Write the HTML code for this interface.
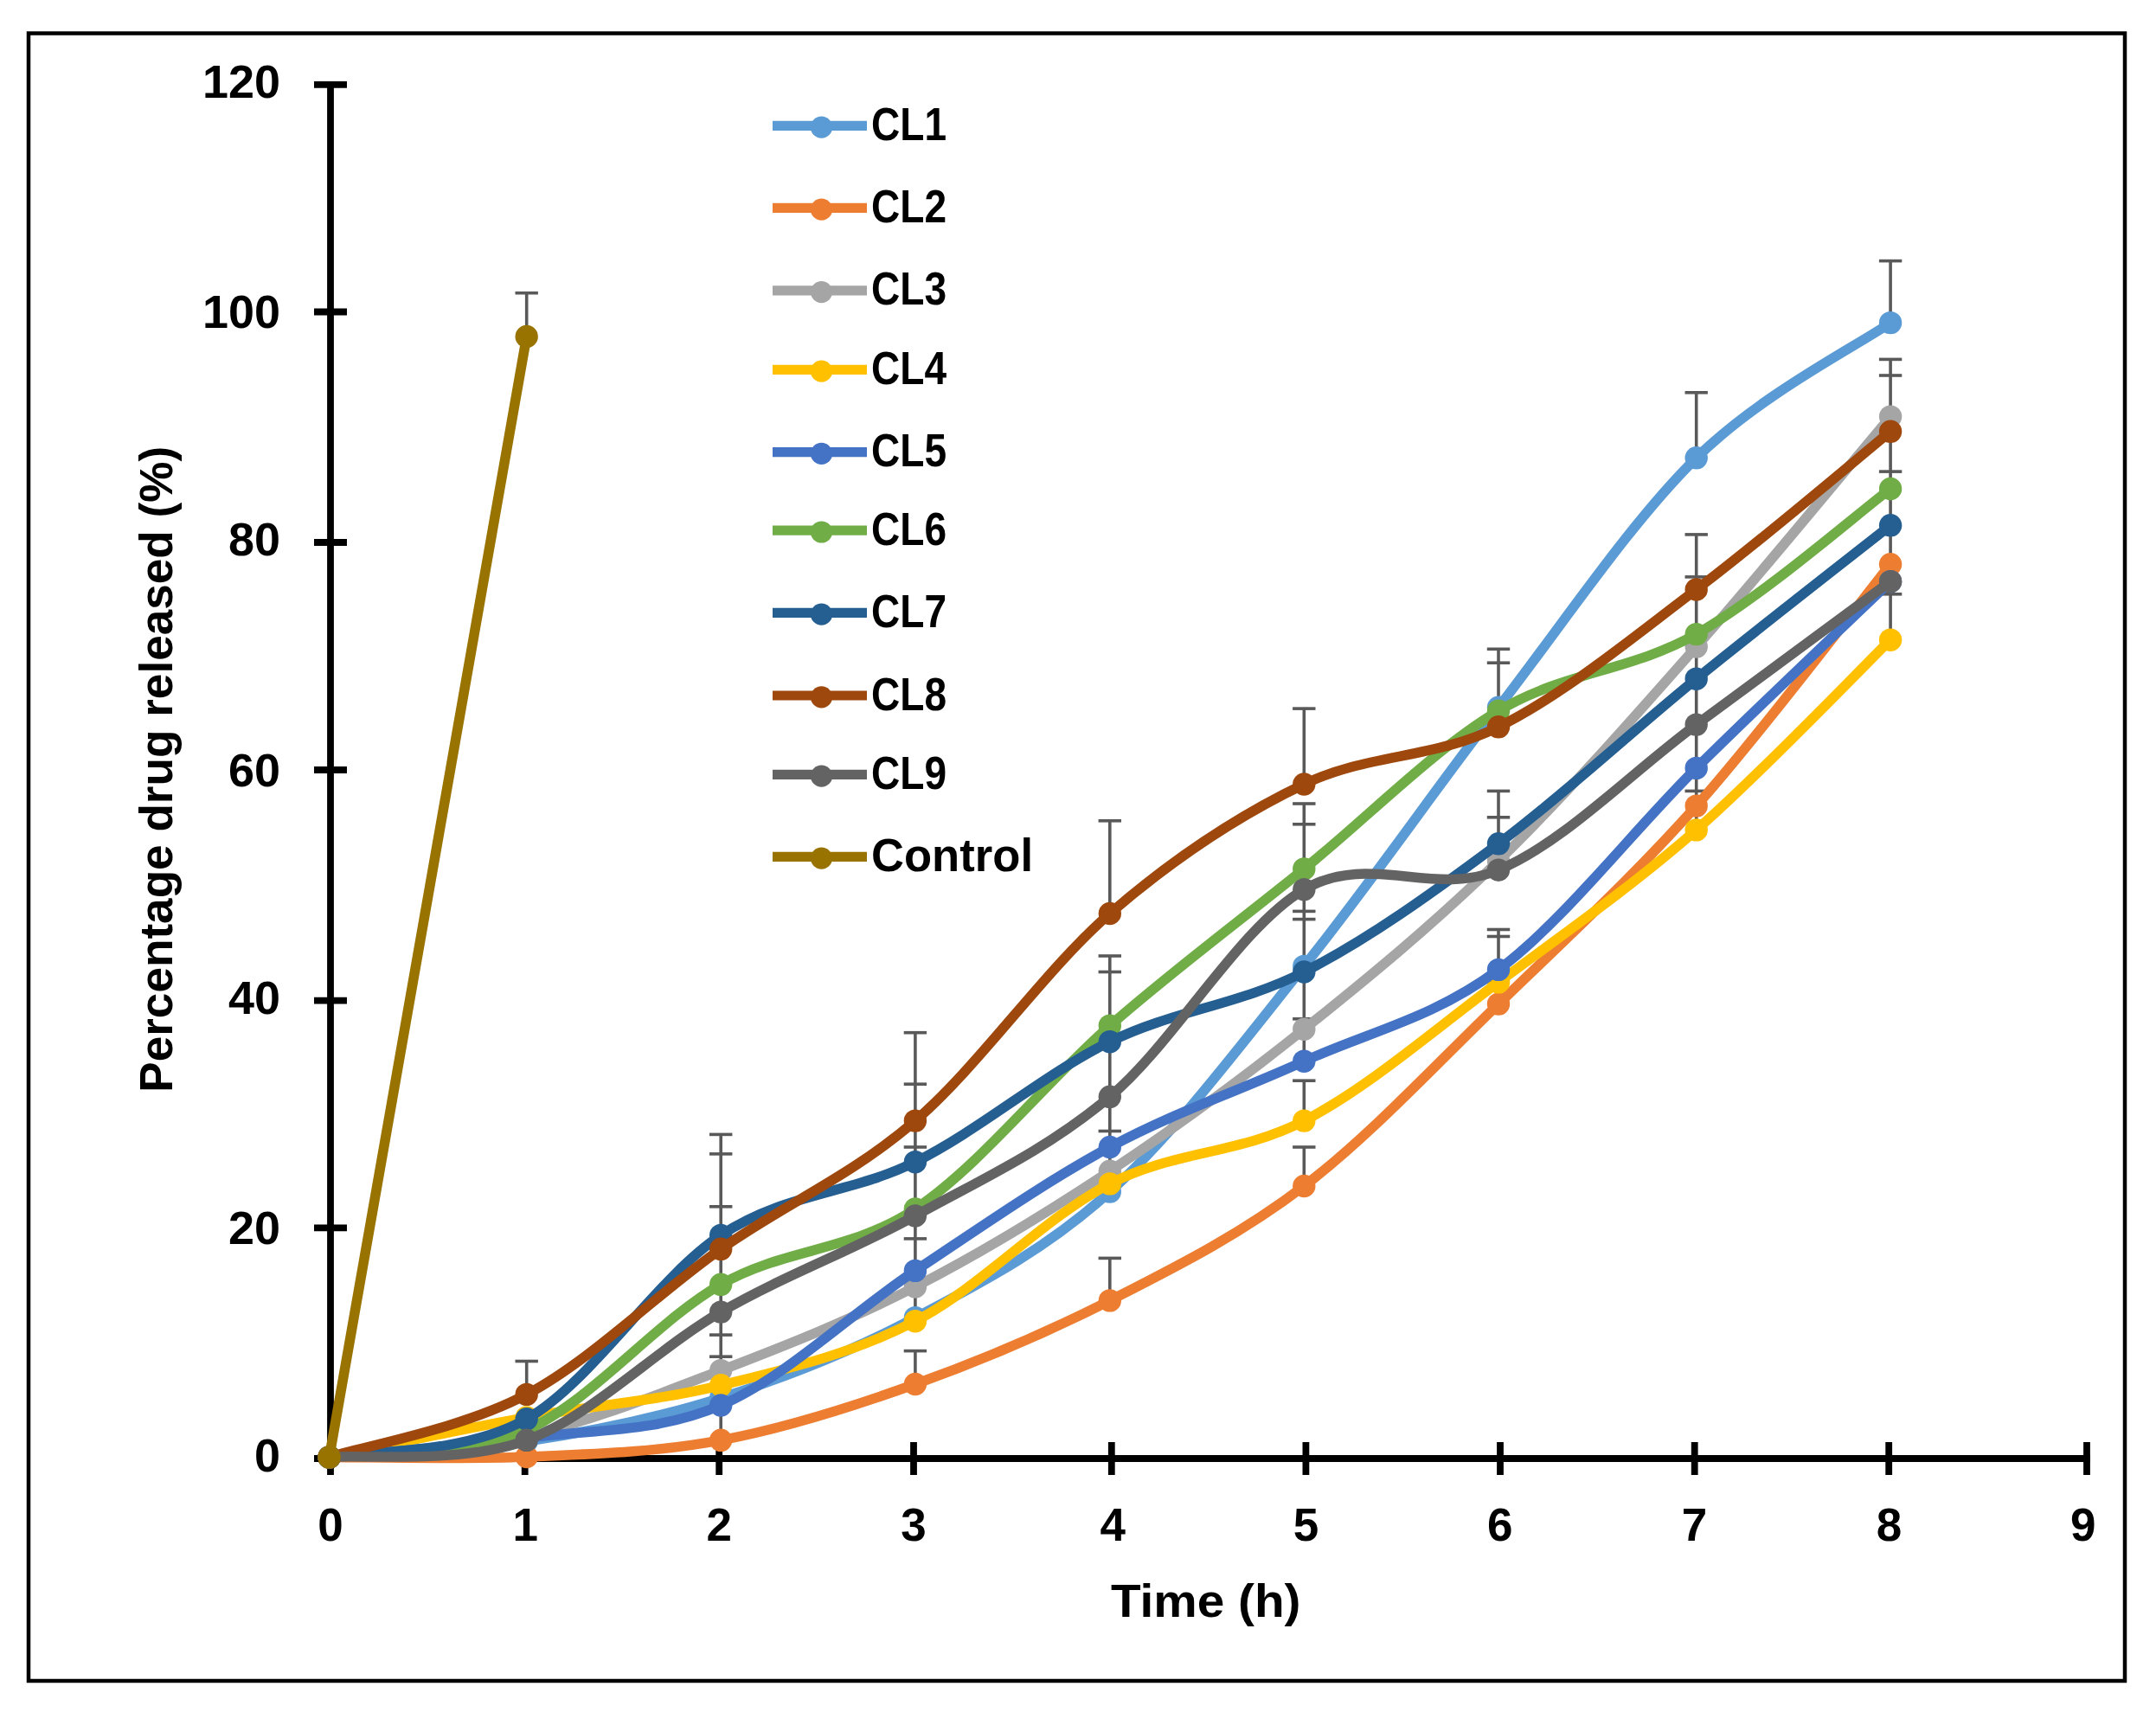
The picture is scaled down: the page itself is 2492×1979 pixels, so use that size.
<!DOCTYPE html>
<html><head><meta charset="utf-8"><title>Drug release</title>
<style>html,body{margin:0;padding:0;background:#fff;}svg{display:block;}text{font-family:"Liberation Sans",Arial,sans-serif;font-weight:bold;fill:#000;}</style></head><body>
<svg width="2492" height="1979" viewBox="0 0 2492 1979">
<rect x="0" y="0" width="2492" height="1979" fill="#fff"/>
<rect x="33" y="38.5" width="2423" height="1904.5" fill="none" stroke="#000" stroke-width="4.5"/>
<g stroke="#000" stroke-width="7.8" fill="none">
<line x1="382" y1="97.8" x2="382" y2="1690"/>
<line x1="378" y1="1686" x2="2416" y2="1686"/>
<line x1="363" y1="1686.0" x2="401" y2="1686.0"/>
<line x1="363" y1="1419.4" x2="401" y2="1419.4"/>
<line x1="363" y1="1156.6" x2="401" y2="1156.6"/>
<line x1="363" y1="890.0" x2="401" y2="890.0"/>
<line x1="363" y1="627.0" x2="401" y2="627.0"/>
<line x1="363" y1="360.5" x2="401" y2="360.5"/>
<line x1="363" y1="97.8" x2="401" y2="97.8"/>
<line x1="382.0" y1="1667" x2="382.0" y2="1705"/>
<line x1="606.7" y1="1667" x2="606.7" y2="1705"/>
<line x1="831.2" y1="1667" x2="831.2" y2="1705"/>
<line x1="1056.0" y1="1667" x2="1056.0" y2="1705"/>
<line x1="1284.8" y1="1667" x2="1284.8" y2="1705"/>
<line x1="1509.4" y1="1667" x2="1509.4" y2="1705"/>
<line x1="1734.0" y1="1667" x2="1734.0" y2="1705"/>
<line x1="1958.7" y1="1667" x2="1958.7" y2="1705"/>
<line x1="2183.2" y1="1667" x2="2183.2" y2="1705"/>
<line x1="2412.0" y1="1667" x2="2412.0" y2="1705"/>
</g>
<text x="324" y="1701.0" font-size="53" text-anchor="end" textLength="30" lengthAdjust="spacingAndGlyphs">0</text>
<text x="324" y="1438.3" font-size="53" text-anchor="end" textLength="60" lengthAdjust="spacingAndGlyphs">20</text>
<text x="324" y="1171.8" font-size="53" text-anchor="end" textLength="60" lengthAdjust="spacingAndGlyphs">40</text>
<text x="324" y="908.9" font-size="53" text-anchor="end" textLength="60" lengthAdjust="spacingAndGlyphs">60</text>
<text x="324" y="642.2" font-size="53" text-anchor="end" textLength="60" lengthAdjust="spacingAndGlyphs">80</text>
<text x="324" y="379.2" font-size="53" text-anchor="end" textLength="90" lengthAdjust="spacingAndGlyphs">100</text>
<text x="324" y="113.0" font-size="53" text-anchor="end" textLength="90" lengthAdjust="spacingAndGlyphs">120</text>
<text x="381.9" y="1781" font-size="53" text-anchor="middle">0</text>
<text x="607.2" y="1781" font-size="53" text-anchor="middle">1</text>
<text x="831.3" y="1781" font-size="53" text-anchor="middle">2</text>
<text x="1056.0" y="1781" font-size="53" text-anchor="middle">3</text>
<text x="1286.2" y="1781" font-size="53" text-anchor="middle">4</text>
<text x="1509.4" y="1781" font-size="53" text-anchor="middle">5</text>
<text x="1733.7" y="1781" font-size="53" text-anchor="middle">6</text>
<text x="1958.5" y="1781" font-size="53" text-anchor="middle">7</text>
<text x="2183.4" y="1781" font-size="53" text-anchor="middle">8</text>
<text x="2407.7" y="1781" font-size="53" text-anchor="middle">9</text>
<text x="1284" y="1869" font-size="53" textLength="219.5" lengthAdjust="spacingAndGlyphs">Time (h)</text>
<text transform="translate(199 1262.8) rotate(-90)" x="0" y="0" font-size="53" textLength="747" lengthAdjust="spacingAndGlyphs">Percentage drug released (%)</text>
<g stroke="#595959" stroke-width="3.6" fill="none">
<line x1="608.7" y1="389.0" x2="608.7" y2="338.7"/>
<line x1="595.5" y1="338.7" x2="621.9" y2="338.7"/>
<line x1="608.7" y1="1611.9" x2="608.7" y2="1573.5"/>
<line x1="595.5" y1="1573.5" x2="621.9" y2="1573.5"/>
<line x1="833.2" y1="1664.8" x2="833.2" y2="1311.4"/>
<line x1="820.0" y1="1311.4" x2="846.4" y2="1311.4"/>
<line x1="820.0" y1="1333.9" x2="846.4" y2="1333.9"/>
<line x1="820.0" y1="1394.8" x2="846.4" y2="1394.8"/>
<line x1="820.0" y1="1543.1" x2="846.4" y2="1543.1"/>
<line x1="820.0" y1="1568.2" x2="846.4" y2="1568.2"/>
<line x1="1057.9" y1="1527.2" x2="1057.9" y2="1193.7"/>
<line x1="1044.7" y1="1193.7" x2="1071.1" y2="1193.7"/>
<line x1="1044.7" y1="1253.2" x2="1071.1" y2="1253.2"/>
<line x1="1044.7" y1="1326.0" x2="1071.1" y2="1326.0"/>
<line x1="1044.7" y1="1431.9" x2="1071.1" y2="1431.9"/>
<line x1="1057.9" y1="1600.0" x2="1057.9" y2="1561.6"/>
<line x1="1044.7" y1="1561.6" x2="1071.1" y2="1561.6"/>
<line x1="1282.8" y1="1056.0" x2="1282.8" y2="948.8"/>
<line x1="1269.6" y1="948.8" x2="1296.0" y2="948.8"/>
<line x1="1282.8" y1="1375.0" x2="1282.8" y2="1105.0"/>
<line x1="1269.6" y1="1105.0" x2="1296.0" y2="1105.0"/>
<line x1="1269.6" y1="1123.5" x2="1296.0" y2="1123.5"/>
<line x1="1269.6" y1="1307.5" x2="1296.0" y2="1307.5"/>
<line x1="1282.8" y1="1503.4" x2="1282.8" y2="1454.4"/>
<line x1="1269.6" y1="1454.4" x2="1296.0" y2="1454.4"/>
<line x1="1507.3" y1="906.5" x2="1507.3" y2="819.1"/>
<line x1="1494.1" y1="819.1" x2="1520.5" y2="819.1"/>
<line x1="1507.3" y1="1226.7" x2="1507.3" y2="929.0"/>
<line x1="1494.1" y1="929.0" x2="1520.5" y2="929.0"/>
<line x1="1494.1" y1="952.8" x2="1520.5" y2="952.8"/>
<line x1="1494.1" y1="1053.4" x2="1520.5" y2="1053.4"/>
<line x1="1494.1" y1="1062.6" x2="1520.5" y2="1062.6"/>
<line x1="1494.1" y1="1177.8" x2="1520.5" y2="1177.8"/>
<line x1="1507.3" y1="1295.6" x2="1507.3" y2="1249.2"/>
<line x1="1494.1" y1="1249.2" x2="1520.5" y2="1249.2"/>
<line x1="1507.3" y1="1371.0" x2="1507.3" y2="1326.0"/>
<line x1="1494.1" y1="1326.0" x2="1520.5" y2="1326.0"/>
<line x1="1732.0" y1="832.3" x2="1732.0" y2="750.3"/>
<line x1="1718.8" y1="750.3" x2="1745.2" y2="750.3"/>
<line x1="1718.8" y1="766.2" x2="1745.2" y2="766.2"/>
<line x1="1732.0" y1="1005.7" x2="1732.0" y2="914.4"/>
<line x1="1718.8" y1="914.4" x2="1745.2" y2="914.4"/>
<line x1="1718.8" y1="944.8" x2="1745.2" y2="944.8"/>
<line x1="1732.0" y1="1160.6" x2="1732.0" y2="1074.5"/>
<line x1="1718.8" y1="1074.5" x2="1745.2" y2="1074.5"/>
<line x1="1718.8" y1="1082.5" x2="1745.2" y2="1082.5"/>
<line x1="1960.7" y1="529.3" x2="1960.7" y2="453.8"/>
<line x1="1947.5" y1="453.8" x2="1973.9" y2="453.8"/>
<line x1="1960.7" y1="959.4" x2="1960.7" y2="617.9"/>
<line x1="1947.5" y1="617.9" x2="1973.9" y2="617.9"/>
<line x1="1947.5" y1="666.9" x2="1973.9" y2="666.9"/>
<line x1="1947.5" y1="914.4" x2="1973.9" y2="914.4"/>
<line x1="2185.1" y1="373.1" x2="2185.1" y2="301.6"/>
<line x1="2171.9" y1="301.6" x2="2198.3" y2="301.6"/>
<line x1="2185.1" y1="739.7" x2="2185.1" y2="415.4"/>
<line x1="2171.9" y1="415.4" x2="2198.3" y2="415.4"/>
<line x1="2171.9" y1="434.0" x2="2198.3" y2="434.0"/>
<line x1="2171.9" y1="545.1" x2="2198.3" y2="545.1"/>
<line x1="2171.9" y1="686.8" x2="2198.3" y2="686.8"/>
</g>
<g>
<path d="M380.6 1684.4 C418.6 1681.4 533.3 1677.6 608.7 1666.1 C684.1 1654.7 758.3 1639.7 833.2 1615.9 C908.1 1592.0 983.0 1562.9 1057.9 1523.2 C1132.8 1483.5 1207.9 1445.3 1282.8 1377.6 C1357.7 1309.9 1432.4 1210.2 1507.3 1116.9 C1582.2 1023.6 1656.4 915.7 1732.0 817.8 C1807.6 719.8 1885.2 603.4 1960.7 529.3 C2036.2 455.1 2147.7 399.1 2185.1 373.1" fill="none" stroke="#5B9BD5" stroke-width="11.5" stroke-linejoin="round" stroke-linecap="round"/>
<circle cx="380.6" cy="1684.4" r="13.2" fill="#5B9BD5"/>
<circle cx="608.7" cy="1666.1" r="13.2" fill="#5B9BD5"/>
<circle cx="833.2" cy="1615.9" r="13.2" fill="#5B9BD5"/>
<circle cx="1057.9" cy="1523.2" r="13.2" fill="#5B9BD5"/>
<circle cx="1282.8" cy="1377.6" r="13.2" fill="#5B9BD5"/>
<circle cx="1507.3" cy="1116.9" r="13.2" fill="#5B9BD5"/>
<circle cx="1732.0" cy="817.8" r="13.2" fill="#5B9BD5"/>
<circle cx="1960.7" cy="529.3" r="13.2" fill="#5B9BD5"/>
<circle cx="2185.1" cy="373.1" r="13.2" fill="#5B9BD5"/>
</g>
<g>
<path d="M380.6 1684.4 C418.6 1684.3 533.3 1687.3 608.7 1684.0 C684.1 1680.8 758.3 1678.8 833.2 1664.8 C908.1 1650.8 983.0 1626.9 1057.9 1600.0 C1132.8 1573.1 1207.9 1541.5 1282.8 1503.4 C1357.7 1465.2 1432.4 1428.1 1507.3 1371.0 C1582.2 1313.9 1656.4 1233.8 1732.0 1160.6 C1807.6 1087.3 1885.2 1016.3 1960.7 931.6 C2036.2 846.9 2147.7 698.9 2185.1 652.3" fill="none" stroke="#ED7D31" stroke-width="11.5" stroke-linejoin="round" stroke-linecap="round"/>
<circle cx="380.6" cy="1684.4" r="13.2" fill="#ED7D31"/>
<circle cx="608.7" cy="1684.0" r="13.2" fill="#ED7D31"/>
<circle cx="833.2" cy="1664.8" r="13.2" fill="#ED7D31"/>
<circle cx="1057.9" cy="1600.0" r="13.2" fill="#ED7D31"/>
<circle cx="1282.8" cy="1503.4" r="13.2" fill="#ED7D31"/>
<circle cx="1507.3" cy="1371.0" r="13.2" fill="#ED7D31"/>
<circle cx="1732.0" cy="1160.6" r="13.2" fill="#ED7D31"/>
<circle cx="1960.7" cy="931.6" r="13.2" fill="#ED7D31"/>
<circle cx="2185.1" cy="652.3" r="13.2" fill="#ED7D31"/>
</g>
<g>
<path d="M380.6 1684.4 C418.6 1680.3 533.3 1676.2 608.7 1659.5 C684.1 1642.8 758.3 1612.8 833.2 1584.1 C908.1 1555.4 983.0 1525.9 1057.9 1487.5 C1132.8 1449.1 1207.9 1403.4 1282.8 1353.8 C1357.7 1304.2 1432.4 1249.5 1507.3 1189.7 C1582.2 1129.9 1656.4 1068.8 1732.0 995.1 C1807.6 921.5 1885.2 833.2 1960.7 747.6 C2036.2 662.1 2147.7 526.0 2185.1 481.6" fill="none" stroke="#A5A5A5" stroke-width="11.5" stroke-linejoin="round" stroke-linecap="round"/>
<circle cx="380.6" cy="1684.4" r="13.2" fill="#A5A5A5"/>
<circle cx="608.7" cy="1659.5" r="13.2" fill="#A5A5A5"/>
<circle cx="833.2" cy="1584.1" r="13.2" fill="#A5A5A5"/>
<circle cx="1057.9" cy="1487.5" r="13.2" fill="#A5A5A5"/>
<circle cx="1282.8" cy="1353.8" r="13.2" fill="#A5A5A5"/>
<circle cx="1507.3" cy="1189.7" r="13.2" fill="#A5A5A5"/>
<circle cx="1732.0" cy="995.1" r="13.2" fill="#A5A5A5"/>
<circle cx="1960.7" cy="747.6" r="13.2" fill="#A5A5A5"/>
<circle cx="2185.1" cy="481.6" r="13.2" fill="#A5A5A5"/>
</g>
<g>
<path d="M380.6 1684.4 C418.6 1676.7 533.3 1652.2 608.7 1638.4 C684.1 1624.5 758.3 1619.8 833.2 1601.3 C908.1 1582.8 983.0 1566.0 1057.9 1527.2 C1132.8 1488.4 1207.9 1407.0 1282.8 1368.4 C1357.7 1329.8 1432.4 1334.4 1507.3 1295.6 C1582.2 1256.7 1656.4 1191.5 1732.0 1135.4 C1807.6 1079.4 1885.2 1025.4 1960.7 959.4 C2036.2 893.4 2147.7 776.3 2185.1 739.7" fill="none" stroke="#FFC000" stroke-width="11.5" stroke-linejoin="round" stroke-linecap="round"/>
<circle cx="380.6" cy="1684.4" r="13.2" fill="#FFC000"/>
<circle cx="608.7" cy="1638.4" r="13.2" fill="#FFC000"/>
<circle cx="833.2" cy="1601.3" r="13.2" fill="#FFC000"/>
<circle cx="1057.9" cy="1527.2" r="13.2" fill="#FFC000"/>
<circle cx="1282.8" cy="1368.4" r="13.2" fill="#FFC000"/>
<circle cx="1507.3" cy="1295.6" r="13.2" fill="#FFC000"/>
<circle cx="1732.0" cy="1135.4" r="13.2" fill="#FFC000"/>
<circle cx="1960.7" cy="959.4" r="13.2" fill="#FFC000"/>
<circle cx="2185.1" cy="739.7" r="13.2" fill="#FFC000"/>
</g>
<g>
<path d="M380.6 1684.4 C418.6 1680.7 533.3 1672.2 608.7 1662.2 C684.1 1652.2 758.3 1656.7 833.2 1624.5 C908.1 1592.3 983.0 1518.7 1057.9 1468.9 C1132.8 1419.2 1207.9 1366.4 1282.8 1326.0 C1357.7 1285.6 1432.4 1260.9 1507.3 1226.7 C1582.2 1192.6 1656.4 1177.3 1732.0 1120.9 C1807.6 1064.4 1885.2 962.7 1960.7 887.9 C2036.2 813.2 2147.7 708.2 2185.1 672.2" fill="none" stroke="#4472C4" stroke-width="11.5" stroke-linejoin="round" stroke-linecap="round"/>
<circle cx="380.6" cy="1684.4" r="13.2" fill="#4472C4"/>
<circle cx="608.7" cy="1662.2" r="13.2" fill="#4472C4"/>
<circle cx="833.2" cy="1624.5" r="13.2" fill="#4472C4"/>
<circle cx="1057.9" cy="1468.9" r="13.2" fill="#4472C4"/>
<circle cx="1282.8" cy="1326.0" r="13.2" fill="#4472C4"/>
<circle cx="1507.3" cy="1226.7" r="13.2" fill="#4472C4"/>
<circle cx="1732.0" cy="1120.9" r="13.2" fill="#4472C4"/>
<circle cx="1960.7" cy="887.9" r="13.2" fill="#4472C4"/>
<circle cx="2185.1" cy="672.2" r="13.2" fill="#4472C4"/>
</g>
<g>
<path d="M380.6 1684.4 C418.6 1679.2 533.3 1686.2 608.7 1652.9 C684.1 1619.7 758.3 1527.4 833.2 1484.8 C908.1 1442.3 983.0 1447.3 1057.9 1397.5 C1132.8 1347.6 1207.9 1251.2 1282.8 1185.7 C1357.7 1120.2 1432.4 1065.1 1507.3 1004.4 C1582.2 943.7 1656.4 867.0 1732.0 821.8 C1807.6 776.5 1885.2 775.9 1960.7 733.1 C2036.2 690.3 2147.7 593.0 2185.1 565.0" fill="none" stroke="#70AD47" stroke-width="11.5" stroke-linejoin="round" stroke-linecap="round"/>
<circle cx="380.6" cy="1684.4" r="13.2" fill="#70AD47"/>
<circle cx="608.7" cy="1652.9" r="13.2" fill="#70AD47"/>
<circle cx="833.2" cy="1484.8" r="13.2" fill="#70AD47"/>
<circle cx="1057.9" cy="1397.5" r="13.2" fill="#70AD47"/>
<circle cx="1282.8" cy="1185.7" r="13.2" fill="#70AD47"/>
<circle cx="1507.3" cy="1004.4" r="13.2" fill="#70AD47"/>
<circle cx="1732.0" cy="821.8" r="13.2" fill="#70AD47"/>
<circle cx="1960.7" cy="733.1" r="13.2" fill="#70AD47"/>
<circle cx="2185.1" cy="565.0" r="13.2" fill="#70AD47"/>
</g>
<g>
<path d="M380.6 1684.4 C418.6 1677.1 533.3 1683.1 608.7 1640.3 C684.1 1597.6 758.3 1477.4 833.2 1427.9 C908.1 1378.4 983.0 1380.5 1057.9 1343.2 C1132.8 1305.9 1207.9 1240.9 1282.8 1204.2 C1357.7 1167.6 1432.4 1161.7 1507.3 1123.5 C1582.2 1085.4 1656.4 1031.7 1732.0 975.3 C1807.6 918.8 1885.2 846.0 1960.7 784.7 C2036.2 723.4 2147.7 636.9 2185.1 607.3" fill="none" stroke="#255E91" stroke-width="11.5" stroke-linejoin="round" stroke-linecap="round"/>
<circle cx="380.6" cy="1684.4" r="13.2" fill="#255E91"/>
<circle cx="608.7" cy="1640.3" r="13.2" fill="#255E91"/>
<circle cx="833.2" cy="1427.9" r="13.2" fill="#255E91"/>
<circle cx="1057.9" cy="1343.2" r="13.2" fill="#255E91"/>
<circle cx="1282.8" cy="1204.2" r="13.2" fill="#255E91"/>
<circle cx="1507.3" cy="1123.5" r="13.2" fill="#255E91"/>
<circle cx="1732.0" cy="975.3" r="13.2" fill="#255E91"/>
<circle cx="1960.7" cy="784.7" r="13.2" fill="#255E91"/>
<circle cx="2185.1" cy="607.3" r="13.2" fill="#255E91"/>
</g>
<g>
<path d="M380.6 1684.4 C418.6 1672.3 533.3 1652.0 608.7 1611.9 C684.1 1571.8 758.3 1496.5 833.2 1443.8 C908.1 1391.1 983.0 1360.2 1057.9 1295.6 C1132.8 1230.9 1207.9 1120.9 1282.8 1056.0 C1357.7 991.2 1432.4 942.4 1507.3 906.5 C1582.2 870.5 1656.4 877.8 1732.0 840.3 C1807.6 802.8 1885.2 738.4 1960.7 681.5 C2036.2 624.6 2147.7 529.3 2185.1 498.8" fill="none" stroke="#9E480E" stroke-width="11.5" stroke-linejoin="round" stroke-linecap="round"/>
<circle cx="380.6" cy="1684.4" r="13.2" fill="#9E480E"/>
<circle cx="608.7" cy="1611.9" r="13.2" fill="#9E480E"/>
<circle cx="833.2" cy="1443.8" r="13.2" fill="#9E480E"/>
<circle cx="1057.9" cy="1295.6" r="13.2" fill="#9E480E"/>
<circle cx="1282.8" cy="1056.0" r="13.2" fill="#9E480E"/>
<circle cx="1507.3" cy="906.5" r="13.2" fill="#9E480E"/>
<circle cx="1732.0" cy="840.3" r="13.2" fill="#9E480E"/>
<circle cx="1960.7" cy="681.5" r="13.2" fill="#9E480E"/>
<circle cx="2185.1" cy="498.8" r="13.2" fill="#9E480E"/>
</g>
<g>
<path d="M380.6 1684.4 C418.6 1681.1 533.3 1692.8 608.7 1664.8 C684.1 1636.9 758.3 1559.8 833.2 1516.6 C908.1 1473.4 983.0 1446.9 1057.9 1405.4 C1132.8 1363.9 1207.9 1330.6 1282.8 1267.8 C1357.7 1204.9 1432.4 1071.9 1507.3 1028.2 C1582.2 984.5 1656.4 1037.5 1732.0 1005.7 C1807.6 974.0 1885.2 893.2 1960.7 837.6 C2036.2 782.0 2147.7 699.8 2185.1 672.2" fill="none" stroke="#636363" stroke-width="11.5" stroke-linejoin="round" stroke-linecap="round"/>
<circle cx="380.6" cy="1684.4" r="13.2" fill="#636363"/>
<circle cx="608.7" cy="1664.8" r="13.2" fill="#636363"/>
<circle cx="833.2" cy="1516.6" r="13.2" fill="#636363"/>
<circle cx="1057.9" cy="1405.4" r="13.2" fill="#636363"/>
<circle cx="1282.8" cy="1267.8" r="13.2" fill="#636363"/>
<circle cx="1507.3" cy="1028.2" r="13.2" fill="#636363"/>
<circle cx="1732.0" cy="1005.7" r="13.2" fill="#636363"/>
<circle cx="1960.7" cy="837.6" r="13.2" fill="#636363"/>
<circle cx="2185.1" cy="672.2" r="13.2" fill="#636363"/>
</g>
<g>
<path d="M380.6 1684.4 L608.7 389.0" fill="none" stroke="#997300" stroke-width="11.5" stroke-linejoin="round" stroke-linecap="round"/>
<circle cx="380.6" cy="1684.4" r="13.2" fill="#997300"/>
<circle cx="608.7" cy="389.0" r="13.2" fill="#997300"/>
</g>
<line x1="893" y1="145.4" x2="1002" y2="145.4" stroke="#5B9BD5" stroke-width="11.2"/>
<circle cx="949.5" cy="147.2" r="12.6" fill="#5B9BD5"/>
<text x="1007" y="161.9" font-size="53" textLength="87" lengthAdjust="spacingAndGlyphs">CL1</text>
<line x1="893" y1="240.4" x2="1002" y2="240.4" stroke="#ED7D31" stroke-width="11.2"/>
<circle cx="949.5" cy="242.2" r="12.6" fill="#ED7D31"/>
<text x="1007" y="256.9" font-size="53" textLength="87" lengthAdjust="spacingAndGlyphs">CL2</text>
<line x1="893" y1="335.8" x2="1002" y2="335.8" stroke="#A5A5A5" stroke-width="11.2"/>
<circle cx="949.5" cy="337.6" r="12.6" fill="#A5A5A5"/>
<text x="1007" y="352.3" font-size="53" textLength="87" lengthAdjust="spacingAndGlyphs">CL3</text>
<line x1="893" y1="427.4" x2="1002" y2="427.4" stroke="#FFC000" stroke-width="11.2"/>
<circle cx="949.5" cy="429.2" r="12.6" fill="#FFC000"/>
<text x="1007" y="443.9" font-size="53" textLength="87" lengthAdjust="spacingAndGlyphs">CL4</text>
<line x1="893" y1="522.6" x2="1002" y2="522.6" stroke="#4472C4" stroke-width="11.2"/>
<circle cx="949.5" cy="524.4" r="12.6" fill="#4472C4"/>
<text x="1007" y="539.1" font-size="53" textLength="87" lengthAdjust="spacingAndGlyphs">CL5</text>
<line x1="893" y1="613.2" x2="1002" y2="613.2" stroke="#70AD47" stroke-width="11.2"/>
<circle cx="949.5" cy="615.0" r="12.6" fill="#70AD47"/>
<text x="1007" y="629.7" font-size="53" textLength="87" lengthAdjust="spacingAndGlyphs">CL6</text>
<line x1="893" y1="708.4" x2="1002" y2="708.4" stroke="#255E91" stroke-width="11.2"/>
<circle cx="949.5" cy="710.2" r="12.6" fill="#255E91"/>
<text x="1007" y="724.9" font-size="53" textLength="87" lengthAdjust="spacingAndGlyphs">CL7</text>
<line x1="893" y1="804.0" x2="1002" y2="804.0" stroke="#9E480E" stroke-width="11.2"/>
<circle cx="949.5" cy="805.8" r="12.6" fill="#9E480E"/>
<text x="1007" y="820.5" font-size="53" textLength="87" lengthAdjust="spacingAndGlyphs">CL8</text>
<line x1="893" y1="895.4" x2="1002" y2="895.4" stroke="#636363" stroke-width="11.2"/>
<circle cx="949.5" cy="897.2" r="12.6" fill="#636363"/>
<text x="1007" y="911.9" font-size="53" textLength="87" lengthAdjust="spacingAndGlyphs">CL9</text>
<line x1="893" y1="990.3" x2="1002" y2="990.3" stroke="#997300" stroke-width="11.2"/>
<circle cx="949.5" cy="992.1" r="12.6" fill="#997300"/>
<text x="1007" y="1006.8" font-size="53" textLength="187" lengthAdjust="spacingAndGlyphs">Control</text>
</svg></body></html>
